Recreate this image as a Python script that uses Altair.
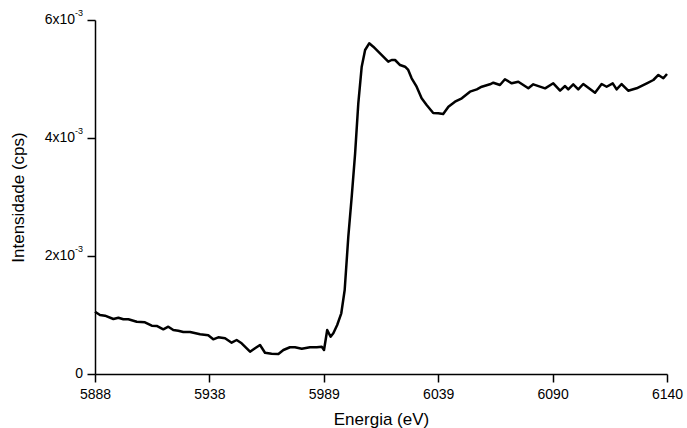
import altair as alt
import pandas as pd

# Spectrum
energia = [
    5888.0, 5890.2, 5892.4, 5896.1, 5898.3, 5900.5, 5902.7, 5906.4, 5910.0, 5913.0,
    5915.2, 5918.1, 5920.3, 5922.5, 5924.7, 5926.9, 5929.9, 5934.3, 5937.9, 5940.1,
    5942.3, 5945.3, 5948.2, 5950.4, 5952.6, 5956.3, 5958.5, 5960.7, 5962.9, 5965.8,
    5968.8, 5971.0, 5973.9, 5976.1, 5979.1, 5982.7, 5985.7, 5987.9, 5988.9, 5990.3,
    5991.8, 5993.0, 5994.7, 5996.5, 5998.0, 5999.6, 6001.1, 6002.6, 6004.0, 6005.5,
    6007.0, 6008.8, 6010.6, 6012.8, 6015.0, 6017.2, 6018.7, 6020.2, 6022.4, 6024.6,
    6026.0, 6027.5, 6029.7, 6031.9, 6034.1, 6037.0, 6039.2, 6041.4, 6043.7, 6046.6,
    6049.6, 6053.2, 6056.2, 6058.4, 6062.0, 6063.5, 6066.4, 6068.6, 6071.6, 6074.5,
    6078.9, 6081.1, 6086.3, 6089.9, 6092.9, 6095.1, 6096.5, 6098.7, 6100.9, 6103.1,
    6108.3, 6111.2, 6113.4, 6116.1, 6117.8, 6120.0, 6122.9, 6126.6, 6131.1, 6134.0,
    6136.2, 6138.4, 6140.0,
]
intensidade = [
    0.001056, 0.001000, 0.000988, 0.000932, 0.000954, 0.000927, 0.000927, 0.000886, 0.000876, 0.000819,
    0.000814, 0.000758, 0.000802, 0.000746, 0.000734, 0.000712, 0.000712, 0.000673, 0.000656, 0.000588,
    0.000622, 0.000605, 0.000531, 0.000576, 0.000520, 0.000378, 0.000436, 0.000492, 0.000361, 0.000344,
    0.000339, 0.000407, 0.000453, 0.000453, 0.000429, 0.000453, 0.000453, 0.000463, 0.000407, 0.000746,
    0.000632, 0.000690, 0.000831, 0.001029, 0.001424, 0.002327, 0.003005, 0.003741, 0.004588, 0.005208,
    0.005492, 0.005605, 0.005547, 0.005463, 0.005378, 0.005293, 0.005322, 0.005322, 0.005237, 0.005208,
    0.005153, 0.005012, 0.004869, 0.004673, 0.004559, 0.004424, 0.004419, 0.004407, 0.004531, 0.004615,
    0.004673, 0.004785, 0.004825, 0.004869, 0.004910, 0.004937, 0.004898, 0.004995, 0.004927, 0.004954,
    0.004842, 0.004910, 0.004842, 0.004927, 0.004802, 0.004881, 0.004825, 0.004910, 0.004825, 0.004915,
    0.004768, 0.004915, 0.004869, 0.004927, 0.004825, 0.004915, 0.004802, 0.004842, 0.004927, 0.004983,
    0.005068, 0.005012, 0.005085,
]

x_tick_values = [5888, 5938.4, 5988.8, 6039.2, 6089.6, 6140]
y_tick_values = [0, 0.002, 0.004, 0.006]
y_tick_mantissa = ["0", "2x10", "4x10", "6x10"]
y_tick_exponent = ["", "-3", "-3", "-3"]

FONT = "Liberation Sans"

df = pd.DataFrame({"energia": energia, "intensidade": intensidade})
ticks = pd.DataFrame({"intensidade": y_tick_values, "m": y_tick_mantissa, "e": y_tick_exponent})

xscale = alt.Scale(domain=[5888, 6140], nice=False, zero=False)
yscale = alt.Scale(domain=[0, 0.006], nice=False)

line = alt.Chart(df).mark_line(color="black", strokeWidth=2.5, strokeJoin="round").encode(
    x=alt.X("energia:Q", scale=xscale,
            axis=alt.Axis(values=x_tick_values, format=".0f", title="Energia (eV)",
                          domain=True, ticks=True,
                          tickSize=8, labelPadding=5, labelFlush=False, titlePadding=10,
                          labelFontSize=14, titleFontSize=17)),
    y=alt.Y("intensidade:Q", scale=yscale,
            axis=alt.Axis(values=y_tick_values, labels=False, title="Intensidade (cps)",
                          domain=True, ticks=True,
                          tickSize=8, titleFontSize=17, titleX=-77, titleBaseline="middle")),
)

ytxt = alt.Y("intensidade:Q", scale=yscale)

zero_lbl = alt.Chart(ticks).transform_filter("datum.intensidade == 0").mark_text(
    align="right", baseline="middle", font=FONT, fontSize=14, color="black"
).encode(x=alt.value(-12), y=ytxt, text="m:N")

mant_lbl = alt.Chart(ticks).transform_filter("datum.intensidade > 0").mark_text(
    align="right", baseline="middle", font=FONT, fontSize=14, color="black"
).encode(x=alt.value(-20), y=ytxt, text="m:N")

exp_lbl = alt.Chart(ticks).transform_filter("datum.intensidade > 0").mark_text(
    align="left", baseline="middle", font=FONT, fontSize=9, color="black", dy=-7
).encode(x=alt.value(-20), y=ytxt, text="e:N")

chart = alt.layer(line, zero_lbl, mant_lbl, exp_lbl).properties(
    width=572, height=354,
    autosize=alt.AutoSizeParams(type="none"),
    padding={"left": 95, "top": 20, "right": 20, "bottom": 54},
    background="white",
).configure_view(stroke=None).configure_axis(
    grid=False, domainColor="black", tickColor="black", domainWidth=1.5, tickWidth=1.5,
    labelColor="black", titleColor="black", labelFont=FONT, titleFont=FONT,
    titleFontWeight="normal",
)

chart.save("out.html", embed_options={"renderer": "svg", "actions": False})
